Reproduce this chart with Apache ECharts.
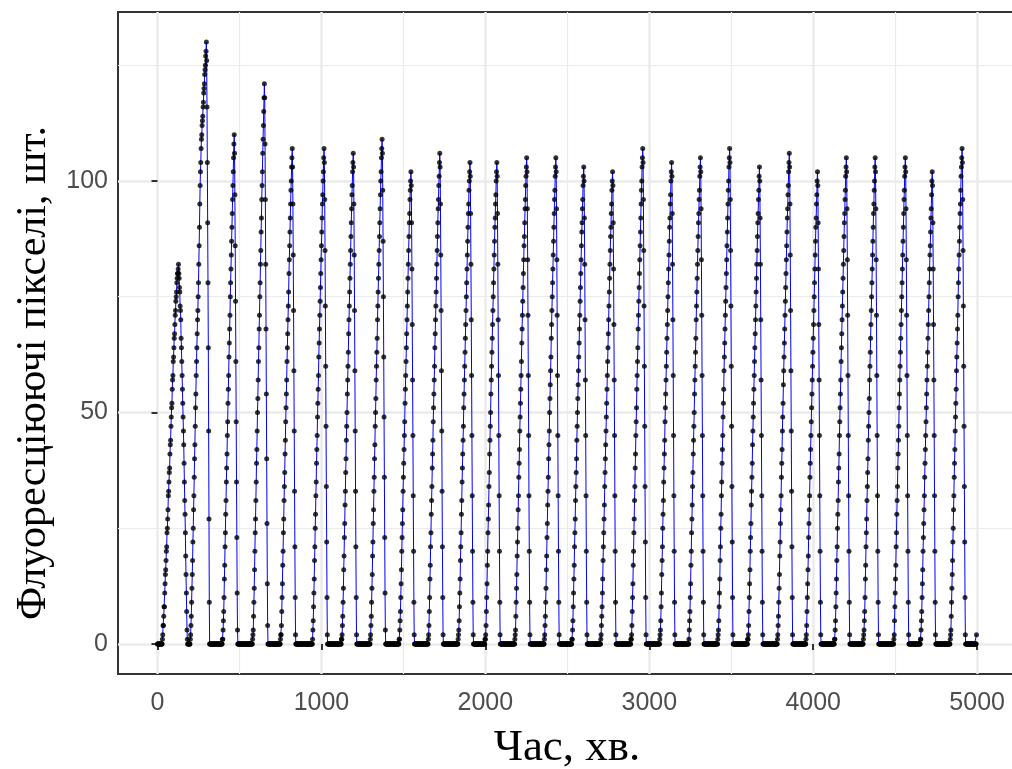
<!DOCTYPE html>
<html>
<head>
<meta charset="utf-8">
<script src="https://cdn.jsdelivr.net/npm/echarts@6/dist/echarts.min.js"></script>
<style>
html, body { margin: 0; padding: 0; background: #fff; }
#chart { width: 1012px; height: 769px; }
</style>
</head>
<body>
<div id="chart"></div>
<script>
// sampling step, minutes
var stepMin = 2;
// start time (min) of every recorded stretch
var segStart = [0, 200, 396, 580, 750, 944, 1122, 1298, 1474, 1650, 1834, 1998, 2180, 2358,
	2528, 2704, 2888, 3064, 3240, 3418, 3600, 3782, 3954, 4130, 4306, 4490, 4654, 4836];
// fluorescent pixel counts, one stretch per burst (rise, fall, flat zero)
var segValues = [
	[0,0,0,0,0,0,0,0,0,0, 0,0,0,0,0,
	 1,2,4,4,6,8,8,11,13,15,16,18,20,21,24,25,27,29,32,33,35,37,38,41,43,44,47,49,51,52,55,57,58,61,62,64,66,67,69,71,72,74,75,76,78,79,80,80,81,82,
	 80,79,77,76,73,72,70,66,64,61,58,55,52,49,46,43,39,35,31,28,24,19,15,11,7,3,1,
	 0,0,0,0,0,0,0,0],
	[1,2,4,6,9,12,15,18,22,25,29,32,36,40,43,47,51,54,58,61,64,67,70,72,75,78,
	 82,86,90,95,99,102,104,107,109,110,112,113,114,116,117,119,120,121,123,124,125,127,128,130,
	 126,116,104,91,78,64,46,27,9,
	 0,0,0,0,0,0,0,0,0,0, 0,0,0,0,0,0,0,0,0,0, 0,0,0,0,0,0,0,0,0,0, 0,0,0,0,0,0,0,0,0],
	[1,1,3,5,7,10,14,17,21,24,28,31,35,38,41,45,48,52,55,58,62,65,68,71,75,78,81,84,87,90,93,96,99,102,105,108,110,
	 106,97,86,74,61,48,35,23,11,3,
	 0,0,0,0,0,0,0,0,0,0, 0,0,0,0,0,0,0,0,0,0, 0,0,0,0,0,0,0,0,0,0, 0,0,0,0,0,0,0,0,0,0, 0,0,0,0,0],
	[1,2,3,6,9,12,16,20,24,27,31,35,39,42,46,50,53,57,61,64,68,71,75,78,82,85,89,92,96,99,102,106,109,112,115,118,121,
	 118,108,96,82,68,54,40,26,13,4,
	 0,0,0,0,0,0,0,0,0,0, 0,0,0,0,0,0,0,0,0,0, 0,0,0,0,0,0,0,0,0,0, 0,0,0,0,0,0,0,0],
	[1,2,2,4,7,10,13,17,20,24,27,31,34,37,41,44,48,51,54,57,61,64,67,70,73,76,80,83,86,89,92,95,98,100,103,105,107,
	 103,95,84,72,59,46,33,21,10,2,
	 0,0,0,0,0,0,0,0,0,0, 0,0,0,0,0,0,0,0,0,0, 0,0,0,0,0,0,0,0,0,0, 0,0,0,0,0,0,0,0,0,0, 0,0,0,0,0,0,0,0,0,0],
	[0,1,3,5,8,11,14,18,21,25,28,32,35,39,42,45,49,52,55,58,62,65,68,71,74,77,80,83,86,89,92,95,97,100,102,105,107,
	 104,96,85,73,60,47,34,22,10,2,
	 0,0,0,0,0,0,0,0,0,0, 0,0,0,0,0,0,0,0,0,0, 0,0,0,0,0,0,0,0,0,0, 0,0,0,0,0,0,0,0,0,0, 0,0],
	[1,1,2,4,6,9,12,16,19,23,26,30,33,37,40,44,47,50,54,57,60,63,67,70,73,76,79,82,85,88,91,94,97,99,102,104,106,
	 103,95,84,72,59,46,33,21,10,2,
	 0,0,0,0,0,0,0,0,0,0, 0,0,0,0,0,0,0,0,0,0, 0,0,0,0,0,0,0,0,0,0, 0,0,0,0,0,0,0,0,0,0, 0],
	[1,2,4,6,9,12,15,19,22,26,29,33,36,40,43,47,50,53,57,60,63,66,70,73,76,79,82,85,88,91,94,97,100,102,105,107,109,
	 106,98,87,75,62,49,36,23,11,3,
	 0,0,0,0,0,0,0,0,0,0, 0,0,0,0,0,0,0,0,0,0, 0,0,0,0,0,0,0,0,0,0, 0,0,0,0,0,0,0,0,0,0, 0],
	[1,1,3,5,7,10,13,16,20,23,26,29,33,36,39,42,45,48,52,55,58,61,64,67,70,73,76,79,82,85,88,91,93,96,98,100,102,
	 99,91,81,69,57,45,32,20,9,2,
	 0,0,0,0,0,0,0,0,0,0, 0,0,0,0,0,0,0,0,0,0, 0,0,0,0,0,0,0,0,0,0, 0,0,0,0,0,0,0,0,0,0, 0],
	[0,1,2,4,7,10,14,17,21,24,28,31,34,38,41,44,48,51,54,57,60,64,67,70,73,76,79,82,85,88,91,94,96,99,101,104,106,
	 103,95,84,72,59,46,33,21,10,2,
	 0,0,0,0,0,0,0,0,0,0, 0,0,0,0,0,0,0,0,0,0, 0,0,0,0,0,0,0,0,0,0, 0,0,0,0,0,0,0,0,0,0, 0,0,0,0,0],
	[1,2,3,5,8,11,14,18,21,24,28,31,35,38,41,44,47,51,54,57,60,63,66,69,72,75,78,81,84,87,90,93,95,98,100,102,104,
	 101,93,82,70,58,45,32,20,9,2,
	 0,0,0,0,0,0,0,0,0,0, 0,0,0,0,0,0,0,0,0,0, 0,0,0,0,0,0,0,0,0,0, 0,0,0,0,0],
	[1,1,2,4,7,10,13,17,20,24,27,30,34,37,41,44,47,50,54,57,60,63,66,69,72,75,78,81,84,87,90,92,95,97,100,102,104,
	 101,93,82,70,58,45,32,20,9,2,
	 0,0,0,0,0,0,0,0,0,0, 0,0,0,0,0,0,0,0,0,0, 0,0,0,0,0,0,0,0,0,0, 0,0,0,0,0,0,0,0,0,0, 0,0,0,0],
	[1,2,3,6,9,12,15,19,22,25,29,32,36,39,42,46,49,52,55,58,61,65,68,71,74,77,80,83,86,88,91,94,96,99,101,103,105,
	 102,94,83,71,58,45,32,20,9,2,
	 0,0,0,0,0,0,0,0,0,0, 0,0,0,0,0,0,0,0,0,0, 0,0,0,0,0,0,0,0,0,0, 0,0,0,0,0,0,0,0,0,0, 0,0],
	[0,1,2,4,6,9,12,16,19,23,26,30,33,36,40,43,46,50,53,56,59,62,66,69,72,75,78,81,84,87,90,93,96,98,101,103,105,
	 102,94,83,71,58,45,32,20,9,2,
	 0,0,0,0,0,0,0,0,0,0, 0,0,0,0,0,0,0,0,0,0, 0,0,0,0,0,0,0,0,0,0, 0,0,0,0,0,0,0,0],
	[1,1,3,5,8,11,14,17,21,24,27,31,34,37,40,44,47,50,53,56,59,62,65,68,71,74,77,80,83,86,89,91,94,96,99,101,103,
	 100,92,82,70,57,45,32,20,9,2,
	 0,0,0,0,0,0,0,0,0,0, 0,0,0,0,0,0,0,0,0,0, 0,0,0,0,0,0,0,0,0,0, 0,0,0,0,0,0,0,0,0,0, 0],
	[1,2,4,6,8,11,14,18,21,24,27,30,34,37,40,43,46,49,52,55,58,61,64,67,70,73,76,79,82,85,88,90,93,95,98,100,102,
	 99,91,81,69,57,45,32,20,9,2,
	 0,0,0,0,0,0,0,0,0,0, 0,0,0,0,0,0,0,0,0,0, 0,0,0,0,0,0,0,0,0,0, 0,0,0,0,0,0,0,0,0,0, 0,0,0,0,0],
	[1,1,2,4,7,10,13,17,20,24,27,31,34,38,41,45,48,51,55,58,61,64,68,71,74,77,80,83,86,89,92,95,98,100,103,105,107,
	 104,96,85,73,60,47,34,22,10,2,
	 0,0,0,0,0,0,0,0,0,0, 0,0,0,0,0,0,0,0,0,0, 0,0,0,0,0,0,0,0,0,0, 0,0,0,0,0,0,0,0,0,0, 0],
	[1,2,3,5,8,11,15,18,21,25,28,31,35,38,41,44,48,51,54,57,60,63,66,69,72,75,78,81,84,87,90,92,95,97,100,102,104,
	 101,93,82,70,58,45,32,20,9,2,
	 0,0,0,0,0,0,0,0,0,0, 0,0,0,0,0,0,0,0,0,0, 0,0,0,0,0,0,0,0,0,0, 0,0,0,0,0,0,0,0,0,0, 0],
	[0,1,3,5,7,10,13,17,20,24,27,30,34,37,41,44,47,50,54,57,60,63,66,70,73,76,79,82,85,88,91,93,96,98,101,103,105,
	 102,94,83,71,58,45,32,20,9,2,
	 0,0,0,0,0,0,0,0,0,0, 0,0,0,0,0,0,0,0,0,0, 0,0,0,0,0,0,0,0,0,0, 0,0,0,0,0,0,0,0,0,0, 0,0],
	[1,2,3,5,8,11,14,18,21,25,28,32,35,39,42,45,49,52,55,59,62,65,68,71,74,77,80,83,86,89,92,95,98,100,103,105,107,
	 104,96,85,73,60,47,34,22,10,2,
	 0,0,0,0,0,0,0,0,0,0, 0,0,0,0,0,0,0,0,0,0, 0,0,0,0,0,0,0,0,0,0, 0,0,0,0,0,0,0,0,0,0, 0,0,0,0],
	[1,1,2,4,7,10,13,16,20,23,26,30,33,36,39,43,46,49,52,55,58,61,64,67,70,73,76,79,82,85,88,91,93,96,98,101,103,
	 100,92,82,70,57,45,32,20,9,2,
	 0,0,0,0,0,0,0,0,0,0, 0,0,0,0,0,0,0,0,0,0, 0,0,0,0,0,0,0,0,0,0, 0,0,0,0,0,0,0,0,0,0, 0,0,0,0],
	[1,2,4,6,9,12,15,19,22,26,29,32,36,39,42,46,49,52,56,59,62,65,68,71,74,77,80,83,86,89,92,94,97,99,102,104,106,
	 103,95,84,72,59,46,33,21,10,2,
	 0,0,0,0,0,0,0,0,0,0, 0,0,0,0,0,0,0,0,0,0, 0,0,0,0,0,0,0,0,0,0, 0,0,0,0,0,0,0,0,0],
	[0,1,2,4,7,10,13,16,19,23,26,29,32,36,39,42,45,48,51,54,57,60,63,66,69,72,75,78,81,84,87,90,92,95,97,100,102,
	 99,91,81,69,57,45,32,20,9,2,
	 0,0,0,0,0,0,0,0,0,0, 0,0,0,0,0,0,0,0,0,0, 0,0,0,0,0,0,0,0,0,0, 0,0,0,0,0,0,0,0,0,0, 0],
	[1,1,3,5,8,11,14,18,21,25,28,31,35,38,41,45,48,51,54,57,61,64,67,70,73,76,79,82,85,88,91,93,96,98,101,103,105,
	 102,94,83,71,58,45,32,20,9,2,
	 0,0,0,0,0,0,0,0,0,0, 0,0,0,0,0,0,0,0,0,0, 0,0,0,0,0,0,0,0,0,0, 0,0,0,0,0,0,0,0,0,0, 0],
	[1,2,3,5,7,10,14,17,21,24,27,31,34,37,40,44,47,50,53,57,60,63,66,69,72,75,78,81,84,87,90,93,95,98,100,103,105,
	 102,94,83,71,58,45,32,20,9,2,
	 0,0,0,0,0,0,0,0,0,0, 0,0,0,0,0,0,0,0,0,0, 0,0,0,0,0,0,0,0,0,0, 0,0,0,0,0,0,0,0,0,0, 0,0,0,0,0],
	[0,1,2,5,8,11,14,17,21,24,28,31,34,38,41,44,47,51,54,57,60,63,66,69,72,75,78,81,84,87,90,93,96,98,101,103,105,
	 102,94,83,71,58,45,32,20,9,2,
	 0,0,0,0,0,0,0,0,0,0, 0,0,0,0,0,0,0,0,0,0, 0,0,0,0,0,0,0,0,0,0, 0,0,0,0,0],
	[1,1,3,5,7,10,13,16,20,23,26,29,32,36,39,42,45,48,51,54,57,60,63,66,69,72,75,78,81,84,86,89,92,94,97,100,102,
	 99,91,81,69,57,45,32,20,9,2,
	 0,0,0,0,0,0,0,0,0,0, 0,0,0,0,0,0,0,0,0,0, 0,0,0,0,0,0,0,0,0,0, 0,0,0,0,0,0,0,0,0,0, 0,0,0,0],
	[1,2,3,6,9,12,15,18,22,25,29,32,36,39,42,46,49,52,55,59,62,65,68,71,75,78,81,84,87,90,93,95,98,101,103,105,107,
	 104,96,85,73,60,47,34,22,10,2,
	 0,0,0,0,0,0,0,0,0,0, 0,0,0,0,0,0,0,0,0,0, 0,0,0,0,0,0,0,0,0,0, 0,0,0,2]
];
var xTicks = [0, 1000, 2000, 3000, 4000, 5000];
var xMinorTicks = [500, 1500, 2500, 3500, 4500];
var yTicks = [0, 50, 100];
var yMinorTicks = [25, 75, 125];

var points = [];
for (var k = 0; k < segValues.length; k++) {
	for (var i = 0; i < segValues[k].length; i++) {
		points.push([segStart[k] + stepMin * i, segValues[k][i]]);
	}
}

var tickFont = '"Liberation Sans", Arial, sans-serif';
var titleFont = '"Liberation Serif", "Times New Roman", serif';

function minorAxis(ticks, min, max) {
	return {
		type: 'value', min: min, max: max, gridIndex: 0,
		axisLine: {show: false},
		axisTick: {show: false, customValues: ticks},
		axisLabel: {show: false, customValues: ticks},
		splitLine: {show: true, lineStyle: {color: '#EBEBEB', width: 1.2}}
	};
}

var option = {
	animation: false,
	backgroundColor: '#fff',
	grid: {
		left: 118, top: 12, width: 898, height: 662,
		outerBoundsMode: 'none', containLabel: false,
		show: true, borderColor: '#333333', borderWidth: 2, backgroundColor: 'transparent'
	},
	xAxis: [
		{
			type: 'value', min: -241, max: 5237, gridIndex: 0,
			axisLine: {show: false},
			axisTick: {show: true, customValues: xTicks, length: 6, lineStyle: {color: '#333333', width: 2}},
			axisLabel: {
				customValues: xTicks, color: '#4D4D4D', fontSize: 25, fontFamily: tickFont, margin: 17,
				formatter: function (v) { return String(v); }
			},
			splitLine: {show: true, lineStyle: {color: '#EBEBEB', width: 2.5}},
			name: 'Час, хв.', nameLocation: 'middle', nameGap: 52,
			nameTextStyle: {fontFamily: titleFont, fontSize: 45, color: '#000'}
		},
		minorAxis(xMinorTicks, -241, 5237)
	],
	yAxis: [
		{
			type: 'value', min: -6.5, max: 136.5, gridIndex: 0,
			axisLine: {show: false},
			axisTick: {show: true, customValues: yTicks, length: 6, lineStyle: {color: '#333333', width: 2}},
			axisLabel: {customValues: yTicks, color: '#4D4D4D', fontSize: 25, fontFamily: tickFont, margin: 10},
			splitLine: {show: true, lineStyle: {color: '#EBEBEB', width: 2.5}},
			name: 'Флуоресціюючі пікселі, шт.', nameLocation: 'middle', nameGap: 62,
			nameTextStyle: {fontFamily: titleFont, fontSize: 42, color: '#000', padding: [0, 60, 0, 0]}
		},
		minorAxis(yMinorTicks, -6.5, 136.5)
	],
	series: [
		{
			type: 'line', data: points, showSymbol: false,
			lineStyle: {color: '#0000FF', width: 1}, z: 2
		},
		{
			type: 'scatter', data: points, symbol: 'circle', symbolSize: 5,
			itemStyle: {color: '#000000'}, z: 3
		}
	]
};
var chart = echarts.init(document.getElementById('chart'));
chart.setOption(option);
</script>
</body>
</html>
